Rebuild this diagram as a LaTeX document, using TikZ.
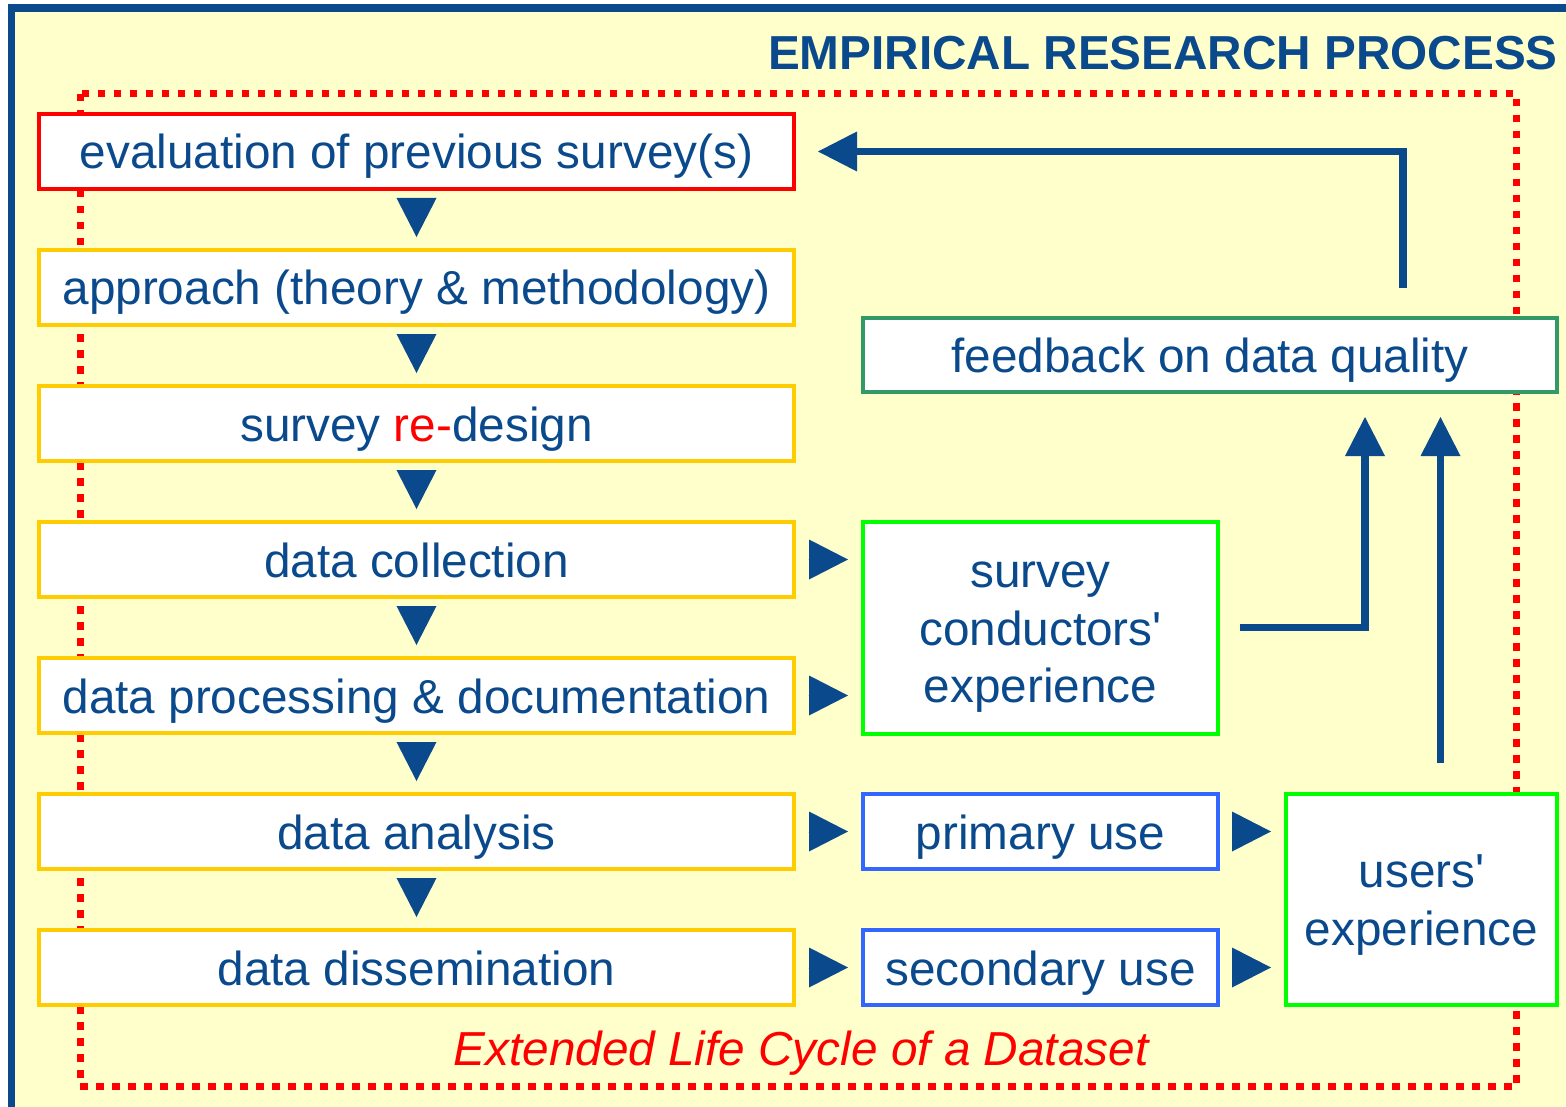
\documentclass[tikz,border=0pt]{standalone}
\usepackage{fontspec}
\setmainfont{Liberation Sans}
\usetikzlibrary{arrows.meta,calc}
\definecolor{tblue}{HTML}{0A4A8C}
\definecolor{bgyellow}{HTML}{FFFFCC}
\definecolor{byellow}{HTML}{FFCC00}
\definecolor{bgreen}{HTML}{00FF00}
\definecolor{bsea}{HTML}{339966}
\definecolor{bblue}{HTML}{3366FF}
\newcommand\sst{\rule[-11pt]{0pt}{57pt}}
\begin{document}
\begin{tikzpicture}[x=1pt,y=-1pt,
  box/.style={draw, line width=4pt, fill=white, text=tblue, inner sep=0pt, align=center,
    font=\fontsize{47.7pt}{57.5pt}\selectfont},
  lbox/.style={box, draw=byellow, minimum width=755pt, minimum height=75pt},
  ubox/.style={box, draw=bblue, minimum width=355pt, minimum height=75pt},
  tri/.style={tblue, line width=0.01pt, -{Triangle[width=40pt,length=39pt,line width=0pt]}},
  flow/.style={tblue, line width=7.5pt, -{Triangle[width=40pt,length=39pt,line width=0pt]}},
]
\useasboundingbox (0,0) rectangle (1566,1107);
% background and frame
\fill[white] (0,0) rectangle (1566,1107);
\fill[bgyellow] (11.5,8) rectangle (1600,1150);
\draw[tblue, line width=7.5pt] (1600,8) -- (11.5,8) -- (11.5,1150);
% life cycle frame
\draw[red, line width=7pt, dash pattern=on 7.5pt off 8.5pt] (80,94) rectangle (1516.5,1086);
% title and caption
\node[anchor=base east, inner sep=0pt, text=tblue, font=\bfseries\fontsize{47.7pt}{57pt}\selectfont]
  (title) at (1558,70) {EMPIRICAL RESEARCH PROCESS};
\node[anchor=base, inner sep=0pt, text=red, font=\itshape\fontsize{47.7pt}{57pt}\selectfont]
  (cycle) at (801,1065) {Extended Life Cycle of a Dataset};
% left column
\node[lbox, draw=red] (ev) at (416.5,151.5) {\sst evaluation of previous survey(s)};
\node[lbox] (ap) at (416.5,287.5) {\sst approach (theory \& methodology)};
\node[lbox] (sd) at (416.5,423.5) {\sst survey {\color{red}re-}design};
\node[lbox] (dc) at (416.5,559.5) {\sst data collection};
\node[lbox] (dp) at (416.5,695.5) {\sst data processing \& documentation};
\node[lbox] (da) at (416.5,831.5) {\sst data analysis};
\node[lbox] (dd) at (416.5,967.5) {\sst data dissemination};
% middle column
\node[box, draw=bgreen, minimum width=355pt, minimum height=212pt] (sc) at (1040.5,627.5)
  {\sst survey\\\sst conductors\textquotesingle\\\sst experience};
\node[ubox] (pu) at (1040.5,831.5) {\sst primary use};
\node[ubox] (su) at (1040.5,967.5) {\sst secondary use};
% right column
\node[box, draw=bgreen, minimum width=271pt, minimum height=211pt] (ue) at (1421.5,899)
  {\sst users\textquotesingle\\\sst experience};
\node[box, draw=bsea, minimum width=694pt, minimum height=74pt] (fb) at (1210,355)
  {\sst feedback on data quality};
% down triangles
\foreach \a/\b in {ev/ap, ap/sd, sd/dc, dc/dp, dp/da, da/dd}
  \draw[tri, shorten <=7pt, shorten >=11pt] (\a.south) -- (\b.north);
% right triangles
\draw[tri, shorten <=12pt, shorten >=13pt] (dc.east) -- (dc.east -| sc.west);
\draw[tri, shorten <=12pt, shorten >=13pt] (dp.east) -- (dp.east -| sc.west);
\draw[tri, shorten <=12pt, shorten >=13pt] (da.east) -- (da.east -| pu.west);
\draw[tri, shorten <=12pt, shorten >=13pt] (dd.east) -- (dd.east -| su.west);
\draw[tri, shorten <=12pt, shorten >=13pt] (pu.east) -- (pu.east -| ue.west);
\draw[tri, shorten <=12pt, shorten >=13pt] (su.east) -- (su.east -| ue.west);
% feedback arrows
\draw[flow, shorten <=20pt, shorten >=23pt] (sc.east) -| ([xshift=155pt]fb.south);
\draw[flow, shorten <=28.5pt, shorten >=23pt] ([xshift=19pt]ue.north) -- ([xshift=19pt]ue.north |- fb.south);
\draw[flow, shorten <=28pt, shorten >=22pt] ([xshift=193pt]fb.north) |- (ev.east);
\end{tikzpicture}
\end{document}
